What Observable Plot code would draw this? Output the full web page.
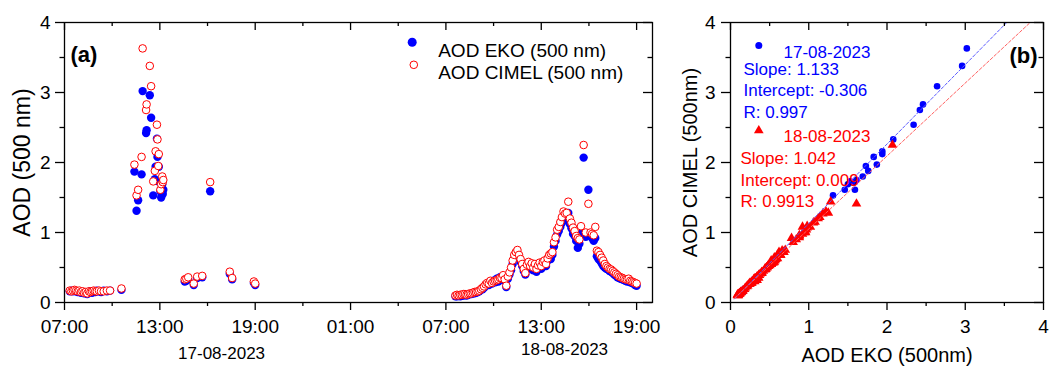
<!DOCTYPE html>
<html><head><meta charset="utf-8">
<script src="https://cdn.jsdelivr.net/npm/d3@7"></script>
<script src="https://cdn.jsdelivr.net/npm/@observablehq/plot@0.6"></script>
<style>
html,body{margin:0;padding:0;background:#fff;}
#wrap{display:flex;width:1049px;height:372px;}
svg{display:block;overflow:visible;}
</style></head><body><div id="wrap"></div>
<script>
// ---------------- DATA ----------------
// 17-08-2023 (clock time, AOD EKO, AOD CIMEL)
const day1Clock = ["07:20","07:26","07:32","07:38","07:44","07:50","07:56","08:02","08:08","08:14","08:20","08:26","08:32","08:38","08:44","08:50","08:56","09:02","09:10","09:18","09:28","09:40","09:52","10:35",
  "11:24","11:32","11:38","11:51","11:55","12:08","12:10","12:22","12:27","12:35","12:41","12:44","12:49","12:51","12:54","12:56","13:02","13:05","13:09","13:11","13:13",
  "14:34","14:40","14:47","15:08","15:21","15:40","16:10","17:24","17:33","18:55","19:00"];
const day1Eko = [0.16,0.17,0.16,0.17,0.16,0.15,0.16,0.14,0.15,0.13,0.14,0.12,0.15,0.16,0.14,0.16,0.15,0.17,0.16,0.15,0.17,0.16,0.17,0.18,
  1.87,1.31,1.46,1.83,3.02,2.42,2.46,2.96,2.64,1.53,1.76,1.94,2.34,2.08,1.73,1.94,1.59,1.50,1.69,1.55,1.61,
  0.30,0.31,0.33,0.25,0.35,0.36,1.59,0.41,0.33,0.28,0.25];
const day1Cimel = [0.17,0.16,0.17,0.18,0.17,0.16,0.17,0.15,0.16,0.14,0.15,0.13,0.16,0.15,0.16,0.17,0.16,0.16,0.17,0.16,0.16,0.17,0.17,0.20,
  1.97,1.53,1.61,2.08,3.63,2.75,2.83,3.38,3.09,1.73,1.88,2.16,2.54,2.33,1.95,2.12,1.61,1.69,1.80,1.72,1.75,
  0.33,0.34,0.36,0.27,0.37,0.38,1.72,0.44,0.35,0.30,0.27];

// 18-08-2023
const day2Clock = ["07:36","07:42","07:48","07:54","08:00","08:06","08:12","08:18","08:24","08:30","08:36","08:42","08:48","08:54","09:00","09:06","09:12","09:18","09:24","09:30",
  "09:36","09:42","09:48","09:54","10:00","10:06","10:12","10:18","10:24","10:30","10:36","10:42","10:48","10:54","11:00","11:06","11:12","11:18","11:24","11:30",
  "11:36","11:42","11:48","11:54","12:00","12:06","12:12","12:18","12:24","12:30","12:36","12:42","12:48","12:54","13:00","13:06","13:12","13:18","13:24","13:30",
  "13:36","13:42","13:48","13:54","14:00","14:06","14:12","14:18","14:24","14:30","14:36","14:42","14:48","14:54","15:00","15:06","15:12","15:18","15:24","15:30",
  "15:40","15:48","15:58","16:06","16:12","16:18","16:24","16:30","16:36","16:42","16:48","16:54","17:00","17:06","17:12","17:18","17:24","17:30","17:36","17:42",
  "17:48","17:54","18:00","18:06","18:12","18:18","18:24","18:30","18:36","18:42","18:48","18:54","19:00"];
const day2Eko = [0.09,0.09,0.10,0.09,0.10,0.10,0.11,0.10,0.11,0.12,0.12,0.13,0.13,0.14,0.15,0.16,0.18,0.19,0.21,0.24,
  0.27,0.25,0.29,0.27,0.31,0.29,0.34,0.30,0.36,0.33,0.37,0.31,0.22,0.34,0.40,0.46,0.55,0.63,0.68,0.70,
  0.64,0.58,0.52,0.45,0.40,0.50,0.56,0.48,0.53,0.46,0.52,0.44,0.50,0.55,0.48,0.53,0.57,0.52,0.60,0.64,
  0.62,0.68,0.80,0.88,0.97,1.02,1.08,1.14,1.22,1.18,1.25,1.28,1.12,1.06,0.98,0.95,0.88,0.78,0.84,0.98,
  2.07,0.94,1.61,0.96,0.92,0.88,0.92,0.66,0.62,0.60,0.56,0.52,0.50,0.48,0.47,0.45,0.44,0.42,0.40,0.38,
  0.36,0.35,0.34,0.33,0.32,0.31,0.30,0.31,0.29,0.28,0.27,0.25,0.24];
const day2Cimel = [0.10,0.11,0.10,0.11,0.11,0.12,0.12,0.11,0.12,0.13,0.13,0.14,0.15,0.15,0.16,0.17,0.19,0.21,0.23,0.26,
  0.28,0.27,0.31,0.28,0.30,0.31,0.32,0.33,0.35,0.35,0.39,0.33,0.24,0.37,0.43,0.50,0.60,0.68,0.72,0.75,
  0.68,0.62,0.55,0.48,0.42,0.54,0.58,0.52,0.56,0.50,0.55,0.48,0.53,0.57,0.52,0.58,0.60,0.55,0.63,0.68,
  0.70,0.72,0.86,0.93,1.04,1.08,1.15,1.22,1.30,1.27,1.28,1.44,1.20,1.14,1.07,1.02,0.95,0.92,0.90,1.09,
  2.25,1.00,1.41,1.00,0.98,0.96,1.08,0.74,0.72,0.68,0.64,0.60,0.55,0.52,0.50,0.48,0.47,0.45,0.43,0.41,
  0.39,0.37,0.36,0.35,0.34,0.33,0.33,0.34,0.31,0.30,0.29,0.28,0.27];

// axis ticks (hours since 07:00 on 17-08-2023)
const timeTicks = [0, 6, 12, 18, 24, 30, 36];
const timeTickLabels = ["07:00", "13:00", "19:00", "01:00", "07:00", "13:00", "19:00"];
const timeMinorTicks = [3, 9, 15, 21, 27, 33];
const aodTicks = [0, 1, 2, 3, 4];
const aodTickLabels = ["0", "1", "2", "3", "4"];
const aodMinorTicks = [0.5, 1.5, 2.5, 3.5];
const dateLabels = ["17-08-2023", "18-08-2023"];
const dateLabelDay = [0, 1];
const dateLabelClock = ["16:53", "14:28"];
const legendLabels = ["AOD EKO (500 nm)", "AOD CIMEL (500 nm)"];

// regression lines (panel b)
const fit17Eko = [0.05, 3.53];
const fit17Cimel = [0.05, 4.0];
const fit18Eko = [0.05, 3.83];
const fit18Cimel = [0.06, 4.0];
const stats17 = ["Slope: 1.133", "Intercept: -0.306", "R: 0.997"];
const stats18 = ["Slope: 1.042", "Intercept: 0.009", "R: 0.9913"];

// ---------------- BUILD ----------------
const FONT = '"Liberation Sans", Arial, Helvetica, sans-serif';
const BLUE = "#0000ff", RED = "#ff0000";

function toHours(day, clock) {
  const [h, m] = clock.split(":").map(Number);
  return day * 24 + h + m / 60 - 7;
}
const rows17 = day1Clock.map((c, i) => ({t: toHours(0, c), eko: day1Eko[i], cimel: day1Cimel[i]}));
const rows18 = day2Clock.map((c, i) => ({t: toHours(1, c), eko: day2Eko[i], cimel: day2Cimel[i]}));
const rowsAll = rows17.concat(rows18);
const aodFormat = d => aodTickLabels[aodTicks.indexOf(d)];

function frameTicks(xMajor, xMinor, yMajor, yMinor, fw, fh) {
  const s = {stroke: "black", strokeWidth: 1.3};
  return [
    Plot.tickX(xMajor, {x: d => d, insetTop: fh, insetBottom: -8, ...s}),
    Plot.tickX(xMinor, {x: d => d, insetTop: fh, insetBottom: -4, ...s}),
    Plot.tickX(xMajor, {x: d => d, insetBottom: fh - 8, ...s}),
    Plot.tickX(xMinor, {x: d => d, insetBottom: fh - 4, ...s}),
    Plot.tickY(yMajor, {y: d => d, insetRight: fw, insetLeft: -9, ...s}),
    Plot.tickY(yMinor, {y: d => d, insetRight: fw, insetLeft: -4.5, ...s}),
    Plot.tickY(yMajor, {y: d => d, insetLeft: fw - 9, ...s}),
    Plot.tickY(yMinor, {y: d => d, insetLeft: fw - 4.5, ...s})
  ];
}

const H = 372, mT = 22, mB = 70, FH = H - mT - mB;

// Panel (a)
const WA = 680, mLA = 64, mRA = 28, FWA = WA - mLA - mRA;
const plotA = Plot.plot({
  width: WA, height: H, marginTop: mT, marginBottom: mB, marginLeft: mLA, marginRight: mRA,
  style: {fontFamily: FONT, fontSize: "19px", color: "#000", background: "transparent", overflow: "visible"},
  x: {domain: [0, 37], ticks: timeTicks, tickFormat: d => timeTickLabels[timeTicks.indexOf(d)], tickSize: 0, tickPadding: 17, label: null},
  y: {domain: [0, 4], ticks: aodTicks, tickFormat: aodFormat, tickSize: 0, tickPadding: 14, label: null},
  marks: [
    Plot.dot(rowsAll, {x: "t", y: "eko", r: 4.2, fill: BLUE}),
    Plot.dot(rowsAll, {x: "t", y: "cimel", r: 3.8, fill: "white", stroke: RED, strokeWidth: 1}),
    Plot.frame({stroke: "black", strokeWidth: 1.3}),
    ...frameTicks(timeTicks, timeMinorTicks, aodTicks, aodMinorTicks, FWA, FH),
    Plot.text(["(a)"], {text: d => d, frameAnchor: "top-left", textAnchor: "start", dx: 6, dy: 24, fontSize: 22, fontWeight: "bold"}),
    Plot.dot([0], {frameAnchor: "top-left", dx: 347.7, dy: 19.7, r: 4.5, fill: BLUE}),
    Plot.dot([0], {frameAnchor: "top-left", dx: 349.3, dy: 42.3, r: 3.8, fill: "white", stroke: RED, strokeWidth: 1}),
    Plot.text([legendLabels[0]], {text: d => d, frameAnchor: "top-left", textAnchor: "start", dx: 373.7, dy: 21.3, fontSize: 19}),
    Plot.text([legendLabels[1]], {text: d => d, frameAnchor: "top-left", textAnchor: "start", dx: 373.7, dy: 42.5, fontSize: 19}),
    Plot.text(["AOD (500 nm)"], {text: d => d, frameAnchor: "left", textAnchor: "middle", rotate: -90, dx: -42, fontSize: 23}),
    Plot.text([{t: toHours(dateLabelDay[0], dateLabelClock[0]), s: dateLabels[0]}], {x: "t", text: "s", frameAnchor: "bottom", dy: 56, fontSize: 17}),
    Plot.text([{t: toHours(dateLabelDay[1], dateLabelClock[1]), s: dateLabels[1]}], {x: "t", text: "s", frameAnchor: "bottom", dy: 52, fontSize: 17})
  ]
});

// Panel (b)
const WB = 369, mLB = 50, mRB = 6, FWB = WB - mLB - mRB;
const fit17 = fit17Eko.map((e, i) => ({eko: e, cimel: fit17Cimel[i]}));
const fit18 = fit18Eko.map((e, i) => ({eko: e, cimel: fit18Cimel[i]}));
const plotB = Plot.plot({
  width: WB, height: H, marginTop: mT, marginBottom: mB, marginLeft: mLB, marginRight: mRB,
  style: {fontFamily: FONT, fontSize: "19px", color: "#000", background: "transparent", overflow: "visible"},
  x: {domain: [0, 4], ticks: aodTicks, tickFormat: aodFormat, tickSize: 0, tickPadding: 17, label: null},
  y: {domain: [0, 4], ticks: aodTicks, tickFormat: aodFormat, tickSize: 0, tickPadding: 15, label: null},
  marks: [
    Plot.dot(rows17, {x: "eko", y: "cimel", r: 3.3, fill: BLUE}),
    Plot.dot(rows18, {x: "eko", y: "cimel", symbol: "triangle", r: 3.6, fill: RED}),
    Plot.line(fit17, {x: "eko", y: "cimel", stroke: "#5a5aff", strokeWidth: 1, strokeDasharray: "3,2"}),
    Plot.line(fit18, {x: "eko", y: "cimel", stroke: "#ff6060", strokeWidth: 1, strokeDasharray: "3,2"}),
    Plot.frame({stroke: "black", strokeWidth: 1.3}),
    ...frameTicks(aodTicks, aodMinorTicks, aodTicks, aodMinorTicks, FWB, FH),
    Plot.text(["(b)"], {text: d => d, frameAnchor: "top-right", textAnchor: "end", dx: -6, dy: 25, fontSize: 22, fontWeight: "bold"}),
    Plot.dot([0], {frameAnchor: "top-left", dx: 28.3, dy: 23, r: 3.5, fill: BLUE}),
    Plot.text(["17-08-2023"], {text: d => d, frameAnchor: "top-left", textAnchor: "start", dx: 53, dy: 23, fontSize: 17, fill: BLUE}),
    ...stats17.map((s, i) => Plot.text([s], {text: d => d, frameAnchor: "top-left", textAnchor: "start", dx: 13, dy: 40.7 + i * 21.2, fontSize: 17, fill: BLUE})),
    Plot.dot([0], {frameAnchor: "top-left", dx: 28.3, dy: 108, symbol: "triangle", r: 3.6, fill: RED}),
    Plot.text(["18-08-2023"], {text: d => d, frameAnchor: "top-left", textAnchor: "start", dx: 53, dy: 107.3, fontSize: 17, fill: RED}),
    ...stats18.map((s, i) => Plot.text([s], {text: d => d, frameAnchor: "top-left", textAnchor: "start", dx: 10, dy: 129.7 + i * 21.4, fontSize: 17, fill: RED})),
    Plot.text(["AOD CIMEL (500nm)"], {text: d => d, frameAnchor: "left", textAnchor: "middle", rotate: -90, dx: -40, fontSize: 20}),
    Plot.text(["AOD EKO (500nm)"], {text: d => d, frameAnchor: "bottom", dy: 59, fontSize: 20})
  ]
});

const wrap = document.getElementById("wrap");
wrap.appendChild(plotA);
wrap.appendChild(plotB);
</script>
</body></html>
